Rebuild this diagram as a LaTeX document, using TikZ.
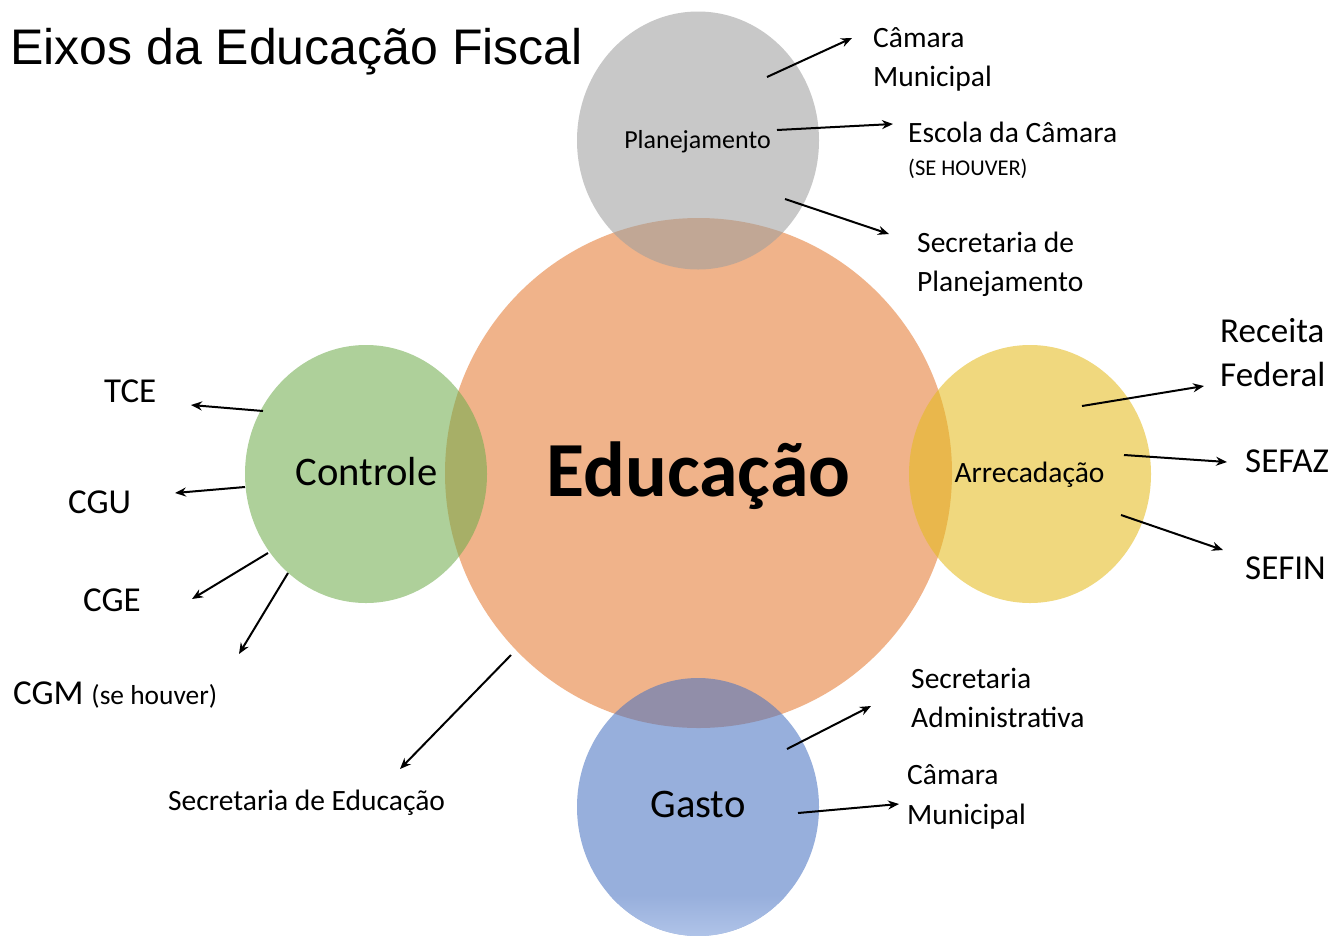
\documentclass[tikz,border=0pt]{standalone}
\usepackage{fontspec}
\setmainfont{Carlito}
\newfontfamily\titlefont{Liberation Sans}
\usetikzlibrary{shapes.geometric,arrows.meta}
\definecolor{cOrange}{RGB}{229,123,50}
\definecolor{cGray}{RGB}{159,159,159}
\definecolor{cGreen}{RGB}{113,173,78}
\definecolor{cGold}{RGB}{229,187,29}
\definecolor{cBlue}{RGB}{73,115,194}
\definecolor{cBlueA}{RGB}{151,175,220}
\definecolor{cBlueB}{RGB}{178,197,233}
\begin{document}
\begin{tikzpicture}[x=1pt,y=-1pt,
  blob/.style={ellipse, inner sep=0pt, draw=none, fill opacity=0.57},
  smallblob/.style={blob, minimum width=242pt, minimum height=258pt},
  ctext/.style={anchor=base, inner sep=0pt},
  lbl/.style={anchor=base west, inner sep=0pt, font=\fontsize{29.5}{35}\selectfont},
  lblbig/.style={anchor=base west, inner sep=0pt, font=\fontsize{35}{42}\selectfont},
  lblsm/.style={anchor=base west, inner sep=0pt, font=\fontsize{22.5}{27}\selectfont},
  arr/.style={line width=2pt, -{Stealth[length=11pt,width=9pt]}}]
\useasboundingbox (0,0) rectangle (1338,935);
\fill[white] (0,0) rectangle (1338,935);

% circles
\node[blob, fill=cOrange, minimum width=507pt, minimum height=510pt] (edu) at (698.5,473) {};
\node[smallblob, fill=cGray] (plan) at (698,140.5) {};
\node[smallblob, fill=cGreen] (ctrl) at (366,474) {};
\node[smallblob, fill=cGold] (arre) at (1030,474) {};
\node[smallblob, fill=cBlue] (gasto) at (698,807) {};
\begin{scope}
  \clip (698,807) ellipse [x radius=121, y radius=129];
  \shade[top color=cBlueA, bottom color=cBlueB] (570,895) rectangle (830,940);
\end{scope}

% circle texts
\node[ctext, font=\bfseries\fontsize{78}{90}\selectfont] (eduT) at (698.5,496) {Educação};
\node[ctext, font=\fontsize{26}{31}\selectfont] (planT) at (697.5,148) {Planejamento};
\node[ctext, font=\fontsize{40.6}{48}\selectfont] (ctrlT) at (366.5,485) {Controle};
\node[ctext, font=\fontsize{29.5}{35}\selectfont] (arreT) at (1029.5,482) {Arrecadação};
\node[ctext, font=\fontsize{40.6}{48}\selectfont] (gastoT) at (698,817) {Gasto};

% title
\node[anchor=base west, inner sep=0pt, font=\titlefont\fontsize{50}{60}\selectfont] (title) at (10,64) {Eixos da Educação Fiscal};

% Planejamento labels
\node[lbl] (pl1a) at (873,47) {Câmara};
\node[lbl] (pl1b) at (873,86) {Municipal};
\node[lbl] (pl2a) at (908,142) {Escola da Câmara};
\node[lblsm] (pl2b) at (908,175) {(SE HOUVER)};
\node[lbl] (pl3a) at (917,252) {Secretaria de};
\node[lbl] (pl3b) at (917,291) {Planejamento};

% Arrecadação labels
\node[lblbig] (ar1a) at (1220,342) {Receita};
\node[lblbig] (ar1b) at (1220,386) {Federal};
\node[lblbig] (ar2) at (1245,472) {SEFAZ};
\node[lblbig] (ar3) at (1245,579) {SEFIN};

% Controle labels
\node[lblbig] (ct1) at (104,402) {TCE};
\node[lblbig] (ct2) at (68,513) {CGU};
\node[lblbig] (ct3) at (83,611) {CGE};
\node[lblbig] (ct4) at (13,704) {CGM {\fontsize{27.4}{33}\selectfont(se houver)}};

% Educação label
\node[lbl] (ed1) at (168,810) {Secretaria de Educação};

% Gasto labels
\node[lbl] (ga1a) at (911,688) {Secretaria};
\node[lbl] (ga1b) at (911,727) {Administrativa};
\node[lbl] (ga2a) at (907,784) {Câmara};
\node[lbl] (ga2b) at (907,824) {Municipal};

% arrow end points
\coordinate (a1s) at (767,77);   \coordinate (a1e) at (852,38);
\coordinate (a2s) at (777,130);  \coordinate (a2e) at (893,124);
\coordinate (a3s) at (785,199);  \coordinate (a3e) at (889,234);
\coordinate (a4s) at (1082,406); \coordinate (a4e) at (1204,386);
\coordinate (a5s) at (1124,455); \coordinate (a5e) at (1227,462);
\coordinate (a6s) at (1121,515); \coordinate (a6e) at (1223,550);
\coordinate (a7s) at (263,411);  \coordinate (a7e) at (191,405);
\coordinate (a8s) at (245,487);  \coordinate (a8e) at (175,493);
\coordinate (a9s) at (268,553);  \coordinate (a9e) at (192,599);
\coordinate (a10s) at (288,573); \coordinate (a10e) at (239,654);
\coordinate (a11s) at (511,655); \coordinate (a11e) at (400,769);
\coordinate (a12s) at (787,749); \coordinate (a12e) at (871,706);
\coordinate (a13s) at (798,813); \coordinate (a13e) at (899,804);

\foreach \i in {1,...,13} \draw[arr] (a\i s) -- (a\i e);
\end{tikzpicture}
\end{document}
